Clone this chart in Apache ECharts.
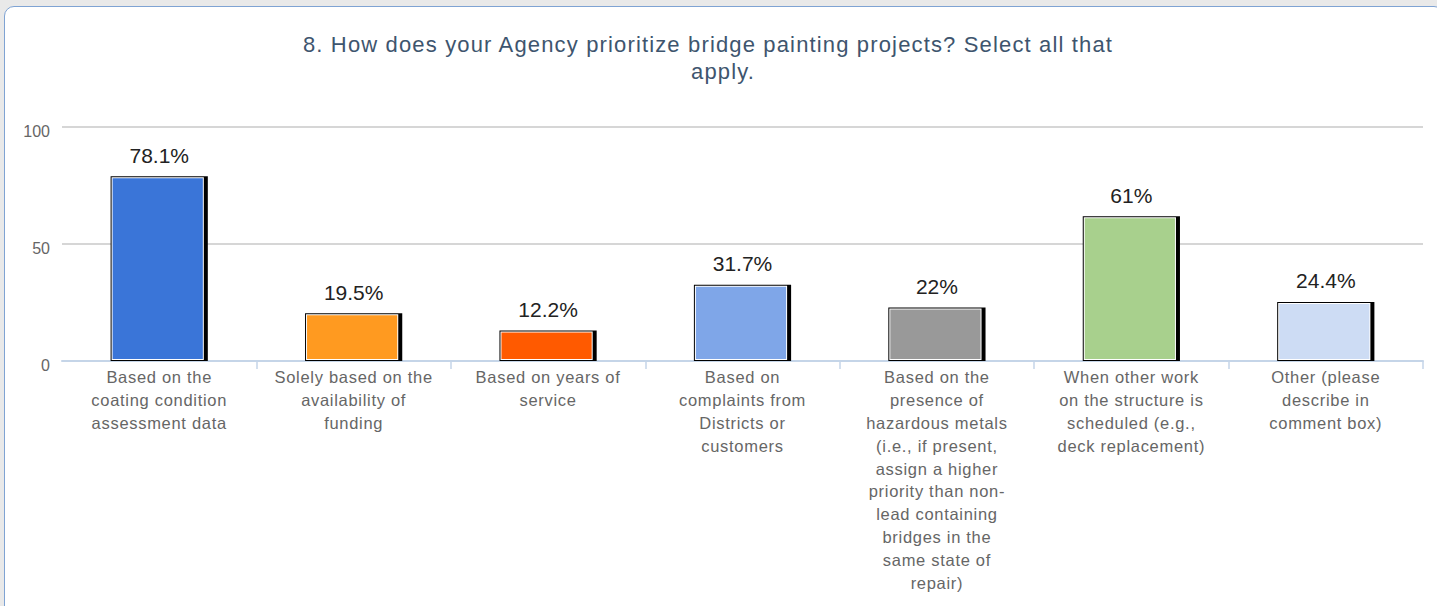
<!DOCTYPE html>
<html>
<head>
<meta charset="utf-8">
<script src="https://cdn.jsdelivr.net/npm/echarts@6/dist/echarts.min.js"></script>
<style>
  html, body { margin: 0; padding: 0; width: 1437px; height: 606px; overflow: hidden; background: #e9e9e9; }
  #panel { position: absolute; left: 4px; top: 6px; width: 1440px; height: 640px; box-sizing: border-box;
           border: 1px solid #7fa3d3; border-radius: 10px; background: #ffffff; }
  #chart { position: absolute; left: 0; top: 0; width: 1437px; height: 606px; }
  /* slightly open tracking for the title and the axis captions */
  #chart text[style*="22px"] { letter-spacing: 1.15px; }
  #chart text[style*="16.5px"] { letter-spacing: 0.7px; }
</style>
</head>
<body>
<div id="panel"></div>
<div id="chart"></div>
<script>
// Survey answers (category labels, pre-wrapped as shown under the axis)
const categories = [
  'Based on the\ncoating condition\nassessment data',
  'Solely based on the\navailability of\nfunding',
  'Based on years of\nservice',
  'Based on\ncomplaints from\nDistricts or\ncustomers',
  'Based on the\npresence of\nhazardous metals\n(i.e., if present,\nassign a higher\npriority than non-\nlead containing\nbridges in the\nsame state of\nrepair)',
  'When other work\non the structure is\nscheduled (e.g.,\ndeck replacement)',
  'Other (please\ndescribe in\ncomment box)'
];
// Share of respondents (%)
const values = [78.1, 19.5, 12.2, 31.7, 22, 61, 24.4];
const valueLabels = ['78.1%', '19.5%', '12.2%', '31.7%', '22%', '61%', '24.4%'];
const barColors = ['#3a75d8', '#ff9a20', '#ff5a00', '#7fa6e8', '#999999', '#a8d08d', '#cddcf4'];
const yTicks = [0, 50, 100];
const titleLines = ['8. How does your Agency prioritize bridge painting projects? Select all that', 'apply.'];

const FONT = 'Liberation Sans, Arial, sans-serif';
const chart = echarts.init(document.getElementById('chart'), null, { renderer: 'svg' });

// Each bar: black outline with a solid drop shadow on the right, a thin white inner edge, then the fill
function renderBar(params, api) {
  const i = api.value(0);
  const v = api.value(1);
  const base = api.coord([i, 0]);
  const top = api.coord([i, v]);
  const band = api.size([1, 0])[0];
  const total = band * 0.5;
  const shadow = 3;
  const w = total - shadow;
  const x0 = base[0] - total / 2;
  const y0 = top[1] - 2;
  const h = base[1] - y0;
  return {
    type: 'group',
    children: [
      { type: 'rect', shape: { x: x0, y: y0, width: total, height: h }, style: { fill: '#000000' } },
      { type: 'rect', shape: { x: x0 + 1, y: y0 + 1, width: w - 2, height: h - 2 }, style: { fill: '#ffffff' } },
      { type: 'rect', shape: { x: x0 + 2, y: y0 + 2, width: w - 4, height: h - 4 }, style: { fill: barColors[i] } },
      { type: 'text', x: base[0], y: y0 - 10.5,
        style: { text: valueLabels[i], fill: '#222222', fontSize: 21, fontFamily: FONT,
                 align: 'center', verticalAlign: 'bottom' } }
    ]
  };
}

const titleStyle = { color: '#3e556e', fontSize: 22, fontWeight: 'normal', fontFamily: FONT };

chart.setOption({
  animation: false,
  title: [
    { text: titleLines[0], left: 708, top: 33, textAlign: 'center', padding: 0, textStyle: titleStyle },
    { text: titleLines[1], left: 723, top: 60, textAlign: 'center', padding: 0, textStyle: titleStyle }
  ],
  grid: { left: 62, right: 14, top: 127, bottom: 245, containLabel: false },
  xAxis: {
    type: 'category',
    data: categories,
    boundaryGap: true,
    axisLine: { show: true, lineStyle: { color: '#c5d5e8', width: 2 } },
    axisTick: { show: true, interval: (idx) => idx !== 0, length: 8, lineStyle: { color: '#c5d5e8', width: 1.5 } },
    axisLabel: { interval: 0, margin: 5, color: '#666666', fontSize: 16.5, lineHeight: 22.8, fontFamily: FONT },
    splitLine: { show: false }
  },
  yAxis: {
    type: 'value',
    min: yTicks[0],
    max: yTicks[yTicks.length - 1],
    interval: yTicks[1] - yTicks[0],
    axisLine: { show: false },
    axisTick: { show: false },
    axisLabel: { margin: 12, color: '#666666', fontSize: 16, fontFamily: FONT, verticalAlign: 'top', lineHeight: 8 },
    splitLine: { show: true, lineStyle: { color: '#c8c8c8', width: 1.5 } }
  },
  series: [{
    type: 'custom',
    renderItem: renderBar,
    data: values.map((v, i) => [i, v]),
    encode: { x: 0, y: 1 },
    clip: false,
    z: 3
  }]
});
</script>
</body>
</html>
